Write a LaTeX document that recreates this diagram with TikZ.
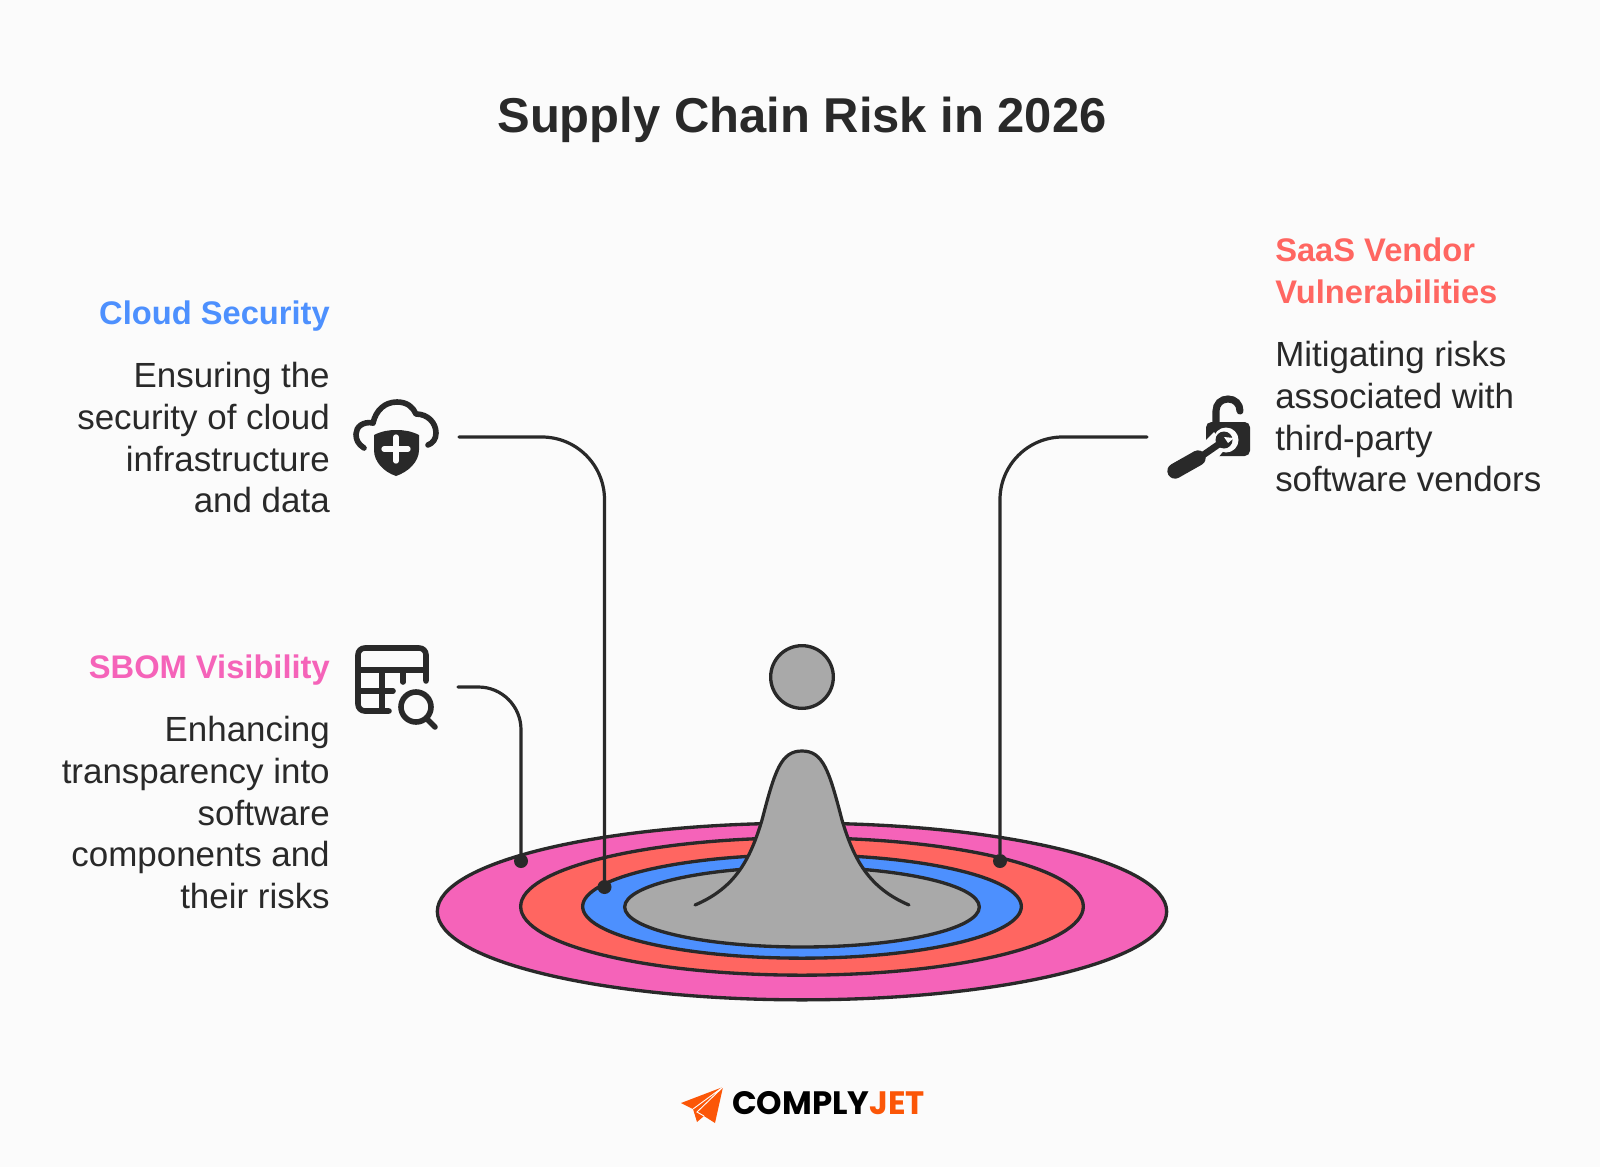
\documentclass[tikz,border=0pt]{standalone}
\usepackage{fontspec}
\setmainfont{Liberation Sans}
\newfontfamily\logofont{Poppins}
\usetikzlibrary{shapes.geometric}
\definecolor{inkdark}{HTML}{292929}
\definecolor{pagebg}{HTML}{FBFBFB}
\definecolor{ringpink}{HTML}{F563B9}
\definecolor{ringred}{HTML}{FF6661}
\definecolor{ringblue}{HTML}{4D90FE}
\definecolor{ringgray}{HTML}{A9A9A9}
\definecolor{logoorange}{HTML}{FB5607}
\tikzstyle{ring} = [ellipse, draw=inkdark, line width=2.5pt, inner sep=0pt, outer sep=0pt]
\tikzstyle{link} = [draw=inkdark, line width=2.4pt, line cap=round]
\tikzstyle{linkdot} = [circle, fill=inkdark, inner sep=0pt, outer sep=0pt, minimum size=10.5pt]
\tikzstyle{heading} = [font=\fontsize{24.5}{31.3}\selectfont\bfseries, inner sep=0pt]
\tikzstyle{bodytext} = [font=\fontsize{26.2}{31.3}\selectfont, text=inkdark, inner sep=0pt]
\tikzstyle{iconline} = [draw=inkdark, line width=4.2pt, line cap=round, line join=round]
\begin{document}
\begin{tikzpicture}[x=0.75pt, y=-0.75pt]
    \fill [pagebg] (0,0) rectangle (1600,1167);
    \useasboundingbox (0,0) rectangle (1600,1167);

    \node (title) [font=\fontsize{36.7}{40}\selectfont\bfseries, text=inkdark, inner sep=0pt] at (802,120) {Supply Chain Risk in 2026};

    % rings and drop
    \node (pinkring) [ring, fill=ringpink, minimum width=547pt, minimum height=132.5pt] at (802,911.5) {};
    \node (redring) [ring, fill=ringred, minimum width=422pt, minimum height=103pt] at (802,906.5) {};
    \node (bluering) [ring, fill=ringblue, minimum width=329pt, minimum height=77.5pt] at (802,906.5) {};
    \node (grayring) [ring, fill=ringgray, minimum width=266pt, minimum height=60pt] at (802,907) {};
    \node (drop) [circle, draw=inkdark, line width=2.5pt, fill=ringgray, inner sep=0pt, outer sep=0pt, minimum size=47pt] at (802,677) {};
    \fill [ringgray] (695,905) .. controls (735,888) and (750,860) .. (762,820) .. controls (775,770) and (781,751) .. (802,751) .. controls (823,751) and (829,770) .. (842,820) .. controls (854,860) and (869,888) .. (909,905);
    \draw [link] (695,905) .. controls (735,888) and (750,860) .. (762,820) .. controls (775,770) and (781,751) .. (802,751) .. controls (823,751) and (829,770) .. (842,820) .. controls (854,860) and (869,888) .. (909,905);

    % connectors
    \node (clouddot) [linkdot] at (604.5,887) {};
    \node (sbomdot) [linkdot] at (521,861) {};
    \node (saasdot) [linkdot] at (1000,861) {};
    \coordinate (cloudstart) at (459,437);
    \coordinate (sbomstart) at (458,687);
    \coordinate (saasstart) at (1147,437);
    \draw [link, rounded corners=47pt] (cloudstart) -| (clouddot);
    \draw [link, rounded corners=32pt] (sbomstart) -| (sbomdot);
    \draw [link, rounded corners=47pt] (saasstart) -| (saasdot);

    % left texts
    \node (cloudhead) [heading, text=ringblue, anchor=base east] at (330,324) {Cloud Security};
    \node (cloudtext) [bodytext, align=right, anchor=north east] at (330,362) {Ensuring the\\security of cloud\\infrastructure\\and data};
    \node (sbomhead) [heading, text=ringpink, anchor=base east] at (330,678) {SBOM Visibility};
    \node (sbomtext) [bodytext, align=right, anchor=north east] at (330,716) {Enhancing\\transparency into\\software\\components and\\their risks};

    % right texts
    \node (saashead) [heading, text=ringred, align=left, anchor=north west] at (1275,238) {SaaS Vendor\\Vulnerabilities};
    \node (saastext) [bodytext, align=left, anchor=north west] at (1275,341) {Mitigating risks\\associated with\\third-party\\software vendors};

    % cloud icon
    \draw [iconline] (364,448) .. controls (358,444) and (356,440) .. (356,434) .. controls (356,427) and (363,421) .. (373,423);
    \draw [iconline] (373,423) .. controls (376,410) and (385,402) .. (397,402) .. controls (407,402) and (413,407) .. (416,414) .. controls (428,414) and (436,423) .. (436,433) .. controls (436,439) and (433,443) .. (428,445);
    \fill [inkdark] (374,435) .. controls (382,431) and (389,430) .. (396,430) .. controls (404,430) and (411,431) .. (419,435) -- (419,450) .. controls (419,462) and (408,472) .. (396,476) .. controls (384,472) and (374,462) .. (374,450) -- cycle;
    \draw [pagebg, line width=4pt, line cap=round] (384,449) -- (408,449) (396,437) -- (396,461);

    % table icon
    \draw [iconline] (426,681) -- (426,655) .. controls (426,651) and (423,648) .. (419,648) -- (365,648) .. controls (361,648) and (358,651) .. (358,655) -- (358,704) .. controls (358,708) and (361,711) .. (365,711) -- (389,711);
    \draw [iconline] (358,670) -- (426,670) (403,670) -- (403,682) (382,670) -- (382,711) (358,691) -- (393,691);
    \draw [iconline] (416,707) circle [radius=15];
    \draw [iconline] (427,719) -- (435,727);

    % lock icon
    \draw [draw=inkdark, line width=5.3pt, line cap=round] (1216,425) -- (1216,411) .. controls (1216,404) and (1221,399) .. (1228,399) .. controls (1235,399) and (1240,404) .. (1240,411);
    \fill [inkdark, rounded corners=4pt] (1206,422) rectangle (1250,456);
    \fill [pagebg] (1203,443) -- (1203,460) -- (1216,460) -- (1226,448) -- (1214,432) -- cycle;
    \fill [pagebg] (1226,440) circle [radius=12.5];
    \draw [draw=inkdark, line width=11.5pt, line cap=round] (1175,471) -- (1198,458);
    \draw [draw=inkdark, line width=5pt] (1196,460) -- (1222,442);
    \fill [inkdark] (1224,440) circle [radius=8.5];
    \fill [pagebg] (1224,437) -- (1234,438) -- (1228,443) -- cycle;

    % logo
    \fill [logoorange] (723,1087) -- (681,1103) -- (693,1109) -- (697,1122) -- (704,1116) -- (715,1123) -- cycle;
    \draw [pagebg, line width=0.7pt] (723,1087) -- (693,1109) (723,1087) -- (697,1112) -- (704,1116);
    \node (logoname) [font=\fontsize{24.3}{26}\logofont\bfseries, inner sep=0pt, anchor=base west] at (732,1114) {COMPLY\textcolor{logoorange}{JET}};
\end{tikzpicture}
\end{document}
